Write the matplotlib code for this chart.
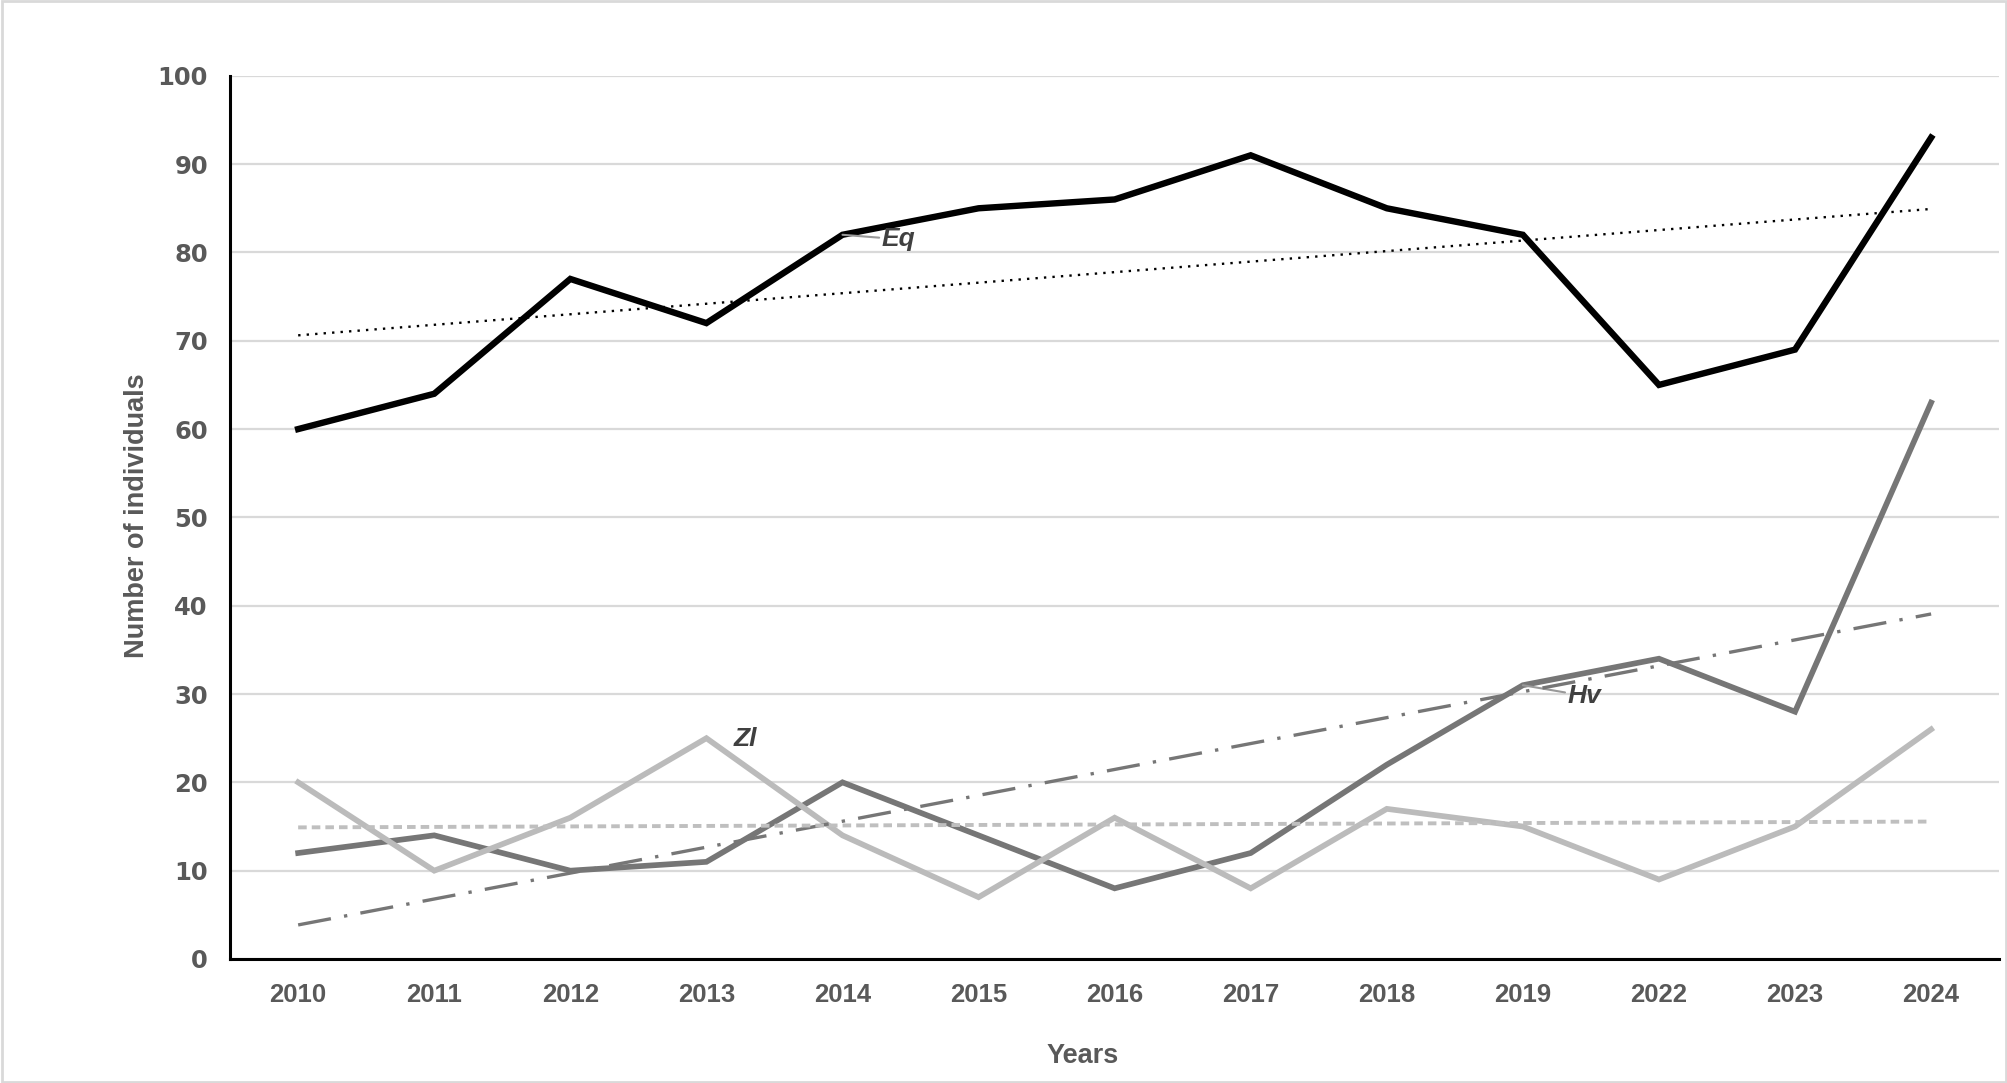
import numpy as np
import matplotlib.pyplot as plt
from matplotlib.patches import Rectangle

years = ["2010", "2011", "2012", "2013", "2014", "2015", "2016",
         "2017", "2018", "2019", "2022", "2023", "2024"]
eq = [60, 64, 77, 72, 82, 85, 86, 91, 85, 82, 65, 69, 93]
hv = [12, 14, 10, 11, 20, 14, 8, 12, 22, 31, 34, 28, 63]
zl = [20, 10, 16, 25, 14, 7, 16, 8, 17, 15, 9, 15, 26]

text_col = "#595959"
lab_col = "#404040"

fig = plt.figure(figsize=(20.08, 10.83), dpi=100)
ax = fig.add_axes([0.1146, 0.1145, 0.881, 0.8155])

x = np.arange(len(years))

ax.plot(x, eq, color="black", lw=4.6, solid_joinstyle="miter", zorder=3)
ax.plot(x, hv, color="#767676", lw=4.1, solid_joinstyle="miter", zorder=3)
ax.plot(x, zl, color="#BBBBBB", lw=4.1, solid_joinstyle="miter", zorder=3)

# linear trend lines
for vals, col, lw, ls in [(eq, "black", 1.7, (0, (1, 2.6))),
                          (hv, "#767676", 2.4, (0, (10, 4, 1, 4))),
                          (zl, "#BFBFBF", 2.8, (0, (2.2, 1.3)))]:
    k, b = np.polyfit(x, vals, 1)
    ax.plot(x, k * x + b, color=col, lw=lw, linestyle=ls, zorder=4)

# series labels
lab_kw = dict(fontsize=19, fontweight="bold", style="italic", color=lab_col,
              va="center", family="Liberation Sans")
ax.annotate("Eq", xy=(4, 82), xytext=(4.29, 81.5), **lab_kw,
            arrowprops=dict(arrowstyle="-", color="#999999", lw=1.5,
                            shrinkA=0, shrinkB=0))
ax.annotate("Hv", xy=(9, 31), xytext=(9.33, 29.8), **lab_kw,
            arrowprops=dict(arrowstyle="-", color="#999999", lw=1.5,
                            shrinkA=0, shrinkB=0))
ax.text(3.2, 24.9, "Zl", **lab_kw)

ax.set_xlim(-0.5, len(years) - 0.5)
ax.set_ylim(0, 100)
ax.set_yticks(range(0, 101, 10))
ax.set_xticks(x)
ax.set_xticklabels(years)
ax.grid(axis="y", color="#D9D9D9", lw=1.6)
ax.set_axisbelow(True)

for s in ["top", "right"]:
    ax.spines[s].set_visible(False)
ax.spines["left"].set_linewidth(2.2)
ax.spines["bottom"].set_linewidth(2.2)

ax.tick_params(length=0)
ax.tick_params(axis="x", pad=17)
ax.tick_params(axis="y", pad=16)
for t in ax.get_xticklabels():
    t.set_fontsize(18.5)
    t.set_fontweight("bold")
    t.set_color(text_col)
    t.set_family("Liberation Sans")
for t in ax.get_yticklabels():
    t.set_fontsize(17.5)
    t.set_fontweight("bold")
    t.set_color(text_col)
    t.set_family("DejaVu Sans")

fig.text(137 / 2008, 1 - 516 / 1083, "Number of individuals", rotation=90,
         ha="center", va="center", fontsize=19.5, fontweight="bold",
         color=text_col, family="Liberation Sans")
fig.text(1083 / 2008, 1 - 1056 / 1083, "Years", ha="center", va="center",
         fontsize=19.5, fontweight="bold", color=text_col,
         family="Liberation Sans")

fig.patches.append(Rectangle((0.001, 0.001), 0.998, 0.998,
                             transform=fig.transFigure, fill=False,
                             edgecolor="#D9D9D9", lw=2))

fig.savefig("out.png", dpi=100)
